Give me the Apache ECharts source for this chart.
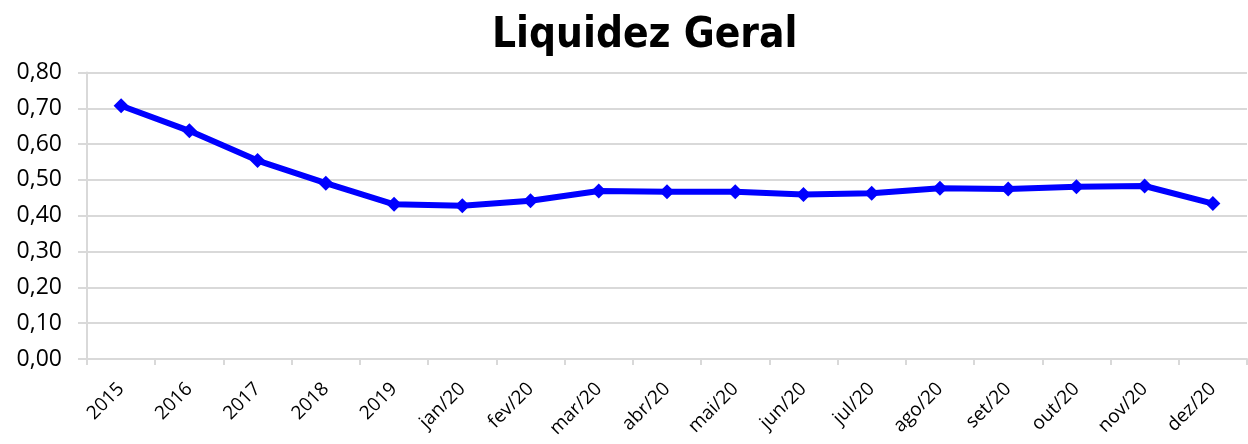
<!DOCTYPE html>
<html>
<head>
<meta charset="utf-8">
<script src="https://cdn.jsdelivr.net/npm/echarts@6/dist/echarts.min.js"></script>
<style>
  html, body { margin: 0; padding: 0; background: #fff; }
  #main { width: 1248px; height: 444px; }
</style>
</head>
<body>
<div id="main"></div>
<script>
// periodos e valores de liquidez geral
const categorias = ['2015', '2016', '2017', '2018', '2019', 'jan/20', 'fev/20', 'mar/20', 'abr/20',
    'mai/20', 'jun/20', 'jul/20', 'ago/20', 'set/20', 'out/20', 'nov/20', 'dez/20'];
const liquidez = [0.707, 0.637, 0.554, 0.491, 0.432, 0.428, 0.442, 0.469, 0.467,
    0.467, 0.459, 0.463, 0.477, 0.475, 0.481, 0.483, 0.434];
const ticksY = [0, 0.1, 0.2, 0.3, 0.4, 0.5, 0.6, 0.7, 0.8];

const chartDom = document.getElementById('main');
const myChart = echarts.init(chartDom);

const option = {
    animation: false,
    title: {
        text: 'Liquidez Geral',
        left: 487,
        top: 10,
        textStyle: {
            fontFamily: 'DejaVu Sans Condensed',
            fontWeight: 'bold',
            fontSize: 42,
            color: '#000'
        }
    },
    grid: {
        left: 87,
        right: 1,
        top: 72.5,
        bottom: 85,
        containLabel: false
    },
    xAxis: {
        type: 'category',
        data: categorias,
        boundaryGap: true,
        axisLine: { lineStyle: { color: '#d9d9d9', width: 2 } },
        axisTick: { show: true, length: 6, lineStyle: { color: '#d9d9d9', width: 2 } },
        axisLabel: {
            rotate: 45,
            margin: 27,
            interval: 0,
            fontFamily: 'Open Sans',
            fontSize: 19,
            color: '#000'
        }
    },
    yAxis: {
        type: 'value',
        min: ticksY[0],
        max: ticksY[ticksY.length - 1],
        interval: 0.1,
        axisLine: { show: true, lineStyle: { color: '#d9d9d9', width: 2 } },
        axisTick: { show: true, length: 9, lineStyle: { color: '#d9d9d9', width: 2 } },
        splitLine: { lineStyle: { color: '#d9d9d9', width: 2 } },
        axisLabel: {
            margin: 25,
            fontFamily: 'Open Sans',
            fontSize: 23,
            color: '#000',
            formatter: v => v.toFixed(2).replace('.', ',')
        }
    },
    series: [
        {
            name: 'Liquidez Geral',
            type: 'line',
            data: liquidez,
            symbol: 'diamond',
            symbolSize: 15,
            lineStyle: { color: '#0000ff', width: 6 },
            itemStyle: { color: '#0000ff' }
        }
    ]
};

myChart.setOption(option);
window.addEventListener('resize', () => {
    myChart.resize()
});
</script>
</body>
</html>
